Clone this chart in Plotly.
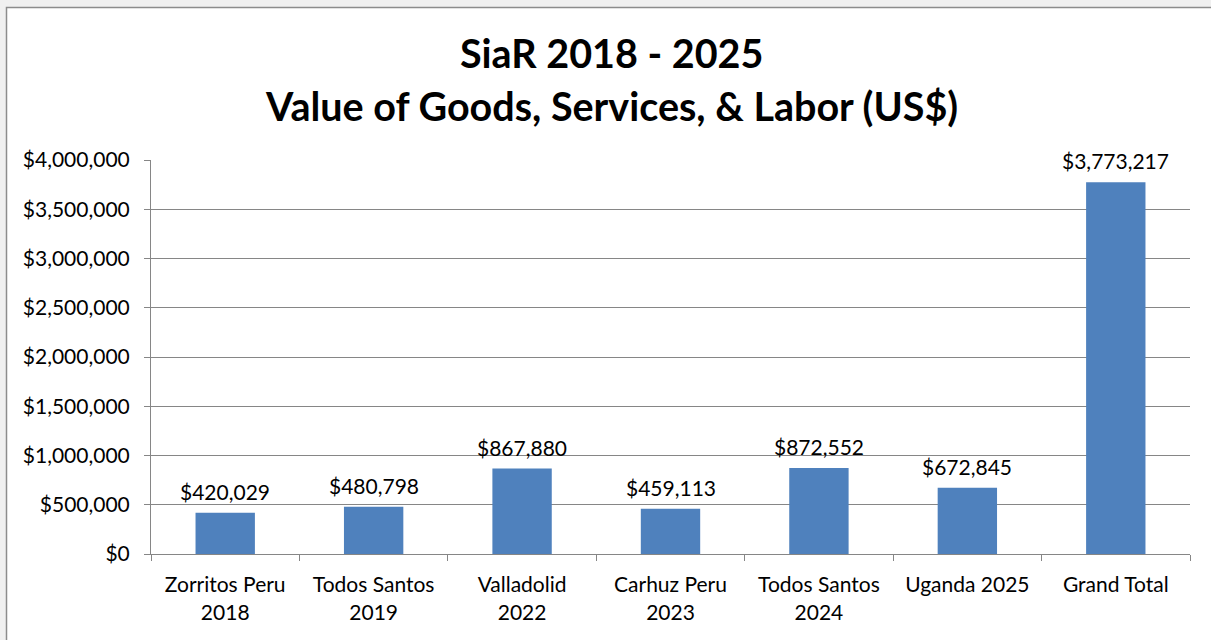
import plotly.graph_objects as go

categories = ["Zorritos Peru<br>2018", "Todos Santos<br>2019", "Valladolid<br>2022",
              "Carhuz Peru<br>2023", "Todos Santos<br>2024", "Uganda 2025", "Grand Total"]
values = [420029, 480798, 867880, 459113, 872552, 672845, 3773217]
title_line1 = "SiaR 2018 - 2025"
title_line2 = "Value of Goods, Services, & Labor (US$)"

W, H = 1211, 640
L, R, T, B = 151, 21, 160, 86
pw, ph = W - L - R, H - T - B

def px_x(px):
    return (px - L) / pw

def px_y(py):
    return (H - B - py) / ph

FONT = "Lato"
FS = 21

fig = go.Figure()
fig.add_trace(go.Bar(
    x=categories, y=values,
    marker=dict(color="#4F81BD", line=dict(width=0)),
    width=0.4,
    hoverinfo="skip",
))

labels = [dict(x=c, y=v, xref="x", yref="y", text=f"${v:,.0f}",
               xanchor="center", yanchor="bottom", yshift=7, showarrow=False,
               font=dict(family=FONT, size=FS, color="#000000"))
          for c, v in zip(categories, values)]

fig.update_layout(
    width=W, height=H,
    margin=dict(l=L, r=R, t=T, b=B),
    paper_bgcolor="#f0f0f0",
    plot_bgcolor="white",
    showlegend=False,
    font=dict(family=FONT, size=FS, color="#000000"),
    xaxis=dict(
        showline=True, linecolor="#868686", linewidth=1,
        ticks="outside", tickson="boundaries", ticklen=6, tickcolor="#868686",
        showgrid=False, tickfont=dict(family=FONT, size=FS, color="#000000"),
        ticklabelstandoff=12,
        fixedrange=True,
    ),
    yaxis=dict(
        range=[0, 4000000], dtick=500000, tickformat="$,.0f",
        showline=True, linecolor="#868686", linewidth=1,
        ticks="outside", ticklen=6, tickcolor="#868686",
        showgrid=True, gridcolor="#868686", gridwidth=1,
        zeroline=False,
        tickfont=dict(family=FONT, size=FS, color="#000000"),
        ticklabelstandoff=10,
        fixedrange=True,
    ),
    shapes=[dict(
        type="rect", xref="paper", yref="paper",
        x0=px_x(6.5), x1=px_x(1225), y0=px_y(655), y1=px_y(7.5),
        fillcolor="white", line=dict(color="#8c8c8c", width=1.5), layer="below",
    )],
    annotations=labels + [
        dict(text=f"<b>{title_line1}</b>", xref="paper", yref="paper",
             x=px_x(611), y=px_y(52), xanchor="center", yanchor="middle",
             showarrow=False, font=dict(family=FONT, size=39.5, color="#000000")),
        dict(text=f"<b>{title_line2}</b>", xref="paper", yref="paper",
             x=px_x(611), y=px_y(105), xanchor="center", yanchor="middle",
             showarrow=False, font=dict(family=FONT, size=39.5, color="#000000")),
    ],
)

fig.write_html("out.html", config={"displayModeBar": False},
               post_script="document.body.style.margin='0';document.body.style.overflow='hidden';")
